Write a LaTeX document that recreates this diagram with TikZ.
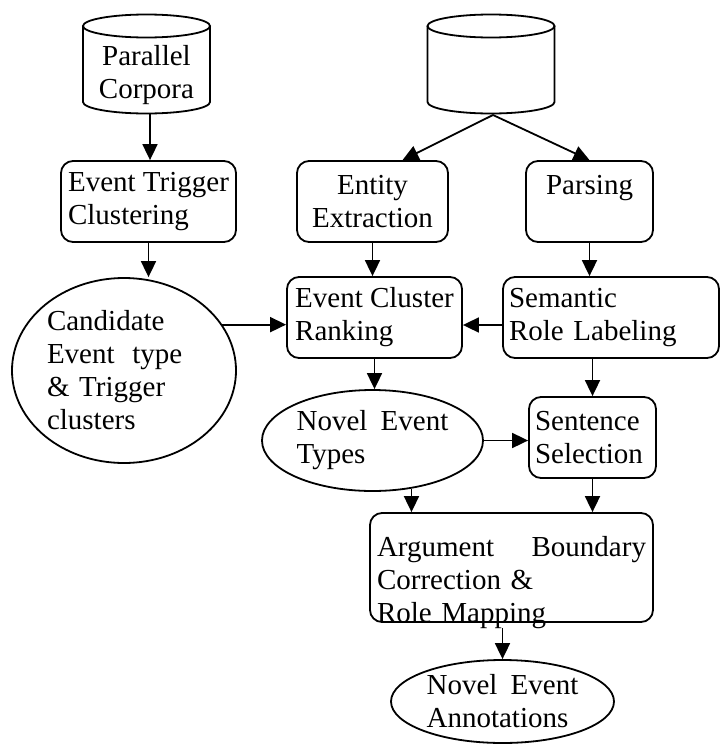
\documentclass[tikz,border=0pt]{standalone}
\usepackage{fontspec}
\setmainfont{Liberation Serif}
\usetikzlibrary{shapes.geometric,arrows.meta}

\begin{document}
\begin{tikzpicture}[x=1pt,y=1pt,line width=1.8pt,
        font=\fontsize{29}{33}\selectfont,
        procbox/.style={draw, rectangle, rounded corners=12pt, align=left, inner xsep=6pt, inner ysep=0pt, minimum height=81pt},
        dataoval/.style={draw, ellipse, align=left, inner sep=0pt},
        flow/.style={-{Triangle[length=16pt,width=15pt]}}]
        \useasboundingbox (0,0) rectangle (722,-744);

        % Draw the two corpus cylinders
        \foreach \cx in {146.5, 491} {
            \draw (\cx,-26) ellipse [x radius=63.5pt, y radius=11.5pt];
            \draw ({\cx-63.5},-26) -- ({\cx-63.5},-102) arc[start angle=180, end angle=360, x radius=63.5pt, y radius=11.5pt] -- ({\cx+63.5},-26);
        }
        \node[align=center] (corpora) at (146.5,-75) {Parallel\\Corpora};
        \coordinate (corpusbase) at (150,-114);
        \coordinate (database) at (493,-115);

        % Define the processing boxes
        \node[procbox, minimum width=175pt] (trigclust) at (148.5,-201.5) {Event Trigger\\Clustering};
        \node[procbox, align=center, text width=139pt, minimum width=151pt] (entity) at (372.5,-201.5) {Entity\\Extraction};
        \node[procbox, align=center, text width=115pt, minimum width=127pt] (parsing) at (589.5,-201.5) {Parsing\\~};
        \node[procbox, minimum width=175pt] (ranking) at (374.5,-317.5) {Event Cluster\\Ranking};
        \node[procbox, text width=204pt, minimum width=216pt] (srl) at (611,-317.5) {Semantic\\Role Labeling};
        \node[procbox, text width=115pt, minimum width=127pt] (selection) at (592.5,-437.5) {Sentence\\Selection};
        \node[procbox, inner xsep=7pt, text width=269pt, text depth=42pt, minimum width=283pt, minimum height=109pt] (mapping) at (511.5,-567.5) {Argument\hfill Boundary\\Correction \&\\Role Mapping};

        % Define the result ovals
        \node[dataoval, text width=154pt, minimum width=224pt, minimum height=185pt] (candidates) at (124,-370.5) {Candidate\\Event\hspace{8pt} type\\\&~Trigger\\clusters};
        \node[dataoval, minimum width=221pt, minimum height=101pt] (noveltypes) at (372.5,-440.5) {Novel\hspace{6pt} Event\\Types};
        \node[dataoval, minimum width=223pt, minimum height=83pt] (annotations) at (502.5,-701.5) {Novel\hspace{6pt} Event\\Annotations};

        % Draw the flow between the steps
        \draw[flow] (corpusbase) -- (corpusbase |- trigclust.north);
        \draw[flow] (trigclust.south) -- (trigclust.south |- candidates.north);
        \draw[flow] (database) -- ([xshift=30pt]entity.north);
        \draw[flow] (database) -- (parsing.north);
        \draw[flow] (entity.south) -- (entity.south |- ranking.north);
        \draw[flow] (parsing.south) -- (parsing.south |- srl.north);
        \draw[flow] (candidates.25) -- (candidates.25 -| ranking.west);
        \draw[flow] ([yshift=-7.5pt]srl.west) -- ([yshift=-7.5pt]ranking.east);
        \draw[flow] (ranking.south) -- (ranking.south |- noveltypes.north);
        \draw[flow] (selection.north |- srl.south) -- (selection.north);
        \draw[flow] (noveltypes.east) -- (noveltypes.east -| selection.west);
        \draw[flow] (noveltypes.-51) -- (noveltypes.-51 |- mapping.north);
        \draw[flow] (selection.south) -- (selection.south |- mapping.north);
        \draw[flow, shorten <=5pt] (annotations.north |- mapping.south) -- (annotations.north);
\end{tikzpicture}
\end{document}
